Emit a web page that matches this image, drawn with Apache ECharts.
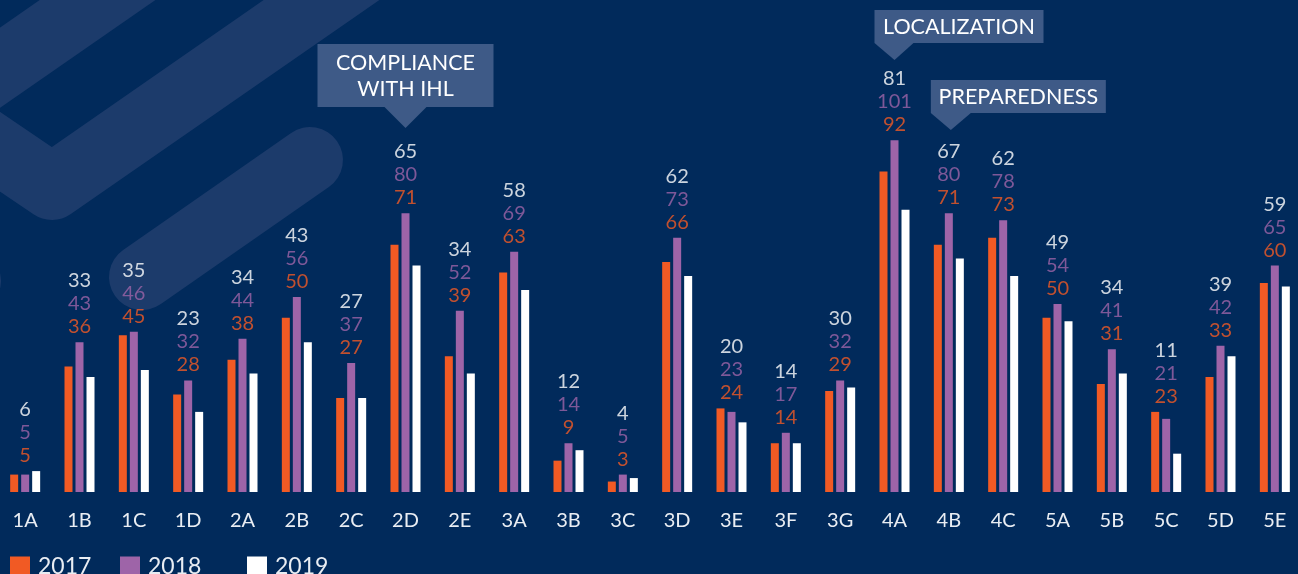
<!DOCTYPE html>
<html>
<head>
<meta charset="utf-8">
<script src="https://cdn.jsdelivr.net/npm/echarts@6/dist/echarts.min.js"></script>
<style>
  html, body { margin: 0; padding: 0; background: #012a5b; overflow: hidden; width: 1298px; height: 574px; }
  /* canvas is a bit wider than the window so the first and last groups sit on the edges */
  #chart { position: absolute; left: -2px; top: 0; width: 1304px; height: 574px; }
</style>
</head>
<body>
<div id="chart"></div>
<script>
// data
var categories = ['1A','1B','1C','1D','2A','2B','2C','2D','2E','3A','3B','3C','3D','3E','3F','3G','4A','4B','4C','5A','5B','5C','5D','5E'];
var v2017 = [5, 36, 45, 28, 38, 50, 27, 71, 39, 63, 9, 3, 66, 24, 14, 29, 92, 71, 73, 50, 31, 23, 33, 60];
var v2018 = [5, 43, 46, 32, 44, 56, 37, 80, 52, 69, 14, 5, 73, 23, 17, 32, 101, 80, 78, 54, 41, 21, 42, 65];
var v2019 = [6, 33, 35, 23, 34, 43, 27, 65, 34, 58, 12, 4, 62, 20, 14, 30, 81, 67, 62, 49, 34, 11, 39, 59];
var callouts = [
  { cat: '2D', text: 'COMPLIANCE\nWITH IHL' },
  { cat: '4A', text: 'LOCALIZATION' },
  { cat: '4B', text: 'PREPAREDNESS' }
];

var ORANGE = '#f15a24', PURPLE = '#9e64a8', WHITE = '#ffffff';
var BAND = '#1c3b6b', BOX = '#3e5a87';
var FONT = 'Lato';

// highest bar of each group, the value stack sits on it
var groupMax = categories.map(function (c, i) {
  return Math.max(v2017[i], v2018[i], v2019[i]);
});

var myChart = echarts.init(document.getElementById('chart'));

function barSeries(name, data, color) {
  return {
    name: name,
    type: 'bar',
    data: data,
    barWidth: 8,
    barGap: '37.5%',
    itemStyle: { color: color },
    z: 3
  };
}

function legendFor(name, left) {
  return {
    data: [name],
    left: left,
    top: 550,
    itemWidth: 20,
    itemHeight: 20,
    icon: 'rect',
    textStyle: { color: '#e9edf3', fontSize: 23, fontFamily: FONT, padding: [0, 0, 0, 3] }
  };
}

myChart.setOption({
  backgroundColor: '#012a5b',
  animation: false,
  legend: [legendFor('2017', 7), legendFor('2018', 117), legendFor('2019', 244)],
  grid: { left: 0, right: 0, top: 74, bottom: 82, containLabel: false },
  xAxis: {
    type: 'category',
    data: categories,
    axisLine: { show: false },
    axisTick: { show: false },
    axisLabel: { color: '#e9edf3', fontSize: 20, fontFamily: FONT, margin: 19 }
  },
  yAxis: {
    type: 'value',
    min: 0,
    max: 120,
    show: false,
    splitLine: { show: false }
  },
  series: [
    barSeries('2017', v2017, ORANGE),
    barSeries('2018', v2018, PURPLE),
    barSeries('2019', v2019, WHITE),
    {
      name: 'values',
      type: 'scatter',
      data: groupMax,
      symbolSize: 0,
      silent: true,
      z: 4,
      label: {
        show: true,
        position: 'top',
        distance: 4,
        formatter: function (p) {
          var i = p.dataIndex;
          return '{w|' + v2019[i] + '}\n{p|' + v2018[i] + '}\n{o|' + v2017[i] + '}';
        },
        rich: {
          w: { color: WHITE, fontSize: 20, lineHeight: 23, fontFamily: FONT },
          p: { color: PURPLE, fontSize: 20, lineHeight: 23, fontFamily: FONT },
          o: { color: ORANGE, fontSize: 20, lineHeight: 23, fontFamily: FONT }
        }
      }
    }
  ]
});

// background stripes (checkmark motif), shifted by the 2px canvas offset
var graphics = [
  { type: 'polyline', z: 0, silent: true,
    shape: { points: [[186, -60], [-131, 160]] },
    style: { stroke: BAND, lineWidth: 66, fill: null } },
  { type: 'polyline', z: 0, silent: true,
    shape: { points: [[-58, 111], [54, 187], [410, -60]] },
    style: { stroke: BAND, lineWidth: 66, lineCap: 'round', lineJoin: 'round', fill: null } },
  { type: 'polyline', z: 0, silent: true,
    shape: { points: [[312, 160], [144, 277]] },
    style: { stroke: BAND, lineWidth: 66, lineCap: 'round', fill: null } },
  { type: 'circle', z: 0, silent: true,
    shape: { cx: -30, cy: 281, r: 33 },
    style: { fill: BAND } }
];

// callout boxes pointing at their category
callouts.forEach(function (c) {
  var cx = myChart.convertToPixel({ xAxisIndex: 0 }, c.cat);
  var box, tri;
  if (c.cat === '2D') {
    box = { x: cx - 88, y: 44, width: 176, height: 63 };
    tri = [[cx - 21, 107], [cx + 21, 107], [cx, 128]];
  } else if (c.cat === '4A') {
    box = { x: cx - 20, y: 10, width: 169, height: 33 };
    tri = [[cx - 20, 43], [cx + 19, 43], [cx, 60]];
  } else {
    box = { x: cx - 18, y: 80, width: 175, height: 33 };
    tri = [[cx - 18, 113], [cx + 22, 113], [cx + 2, 130]];
  }
  graphics.push({ type: 'rect', z: 5, shape: box, style: { fill: BOX } });
  graphics.push({ type: 'polygon', z: 5, shape: { points: tri }, style: { fill: BOX } });
  graphics.push({
    type: 'text', z: 6,
    style: {
      text: c.text,
      x: box.x + box.width / 2,
      y: box.y + box.height / 2 + 1,
      align: 'center',
      verticalAlign: 'middle',
      fill: '#ffffff',
      fontSize: 21.5,
      lineHeight: 26,
      fontFamily: FONT
    }
  });
});

myChart.setOption({ graphic: graphics });
</script>
</body>
</html>
